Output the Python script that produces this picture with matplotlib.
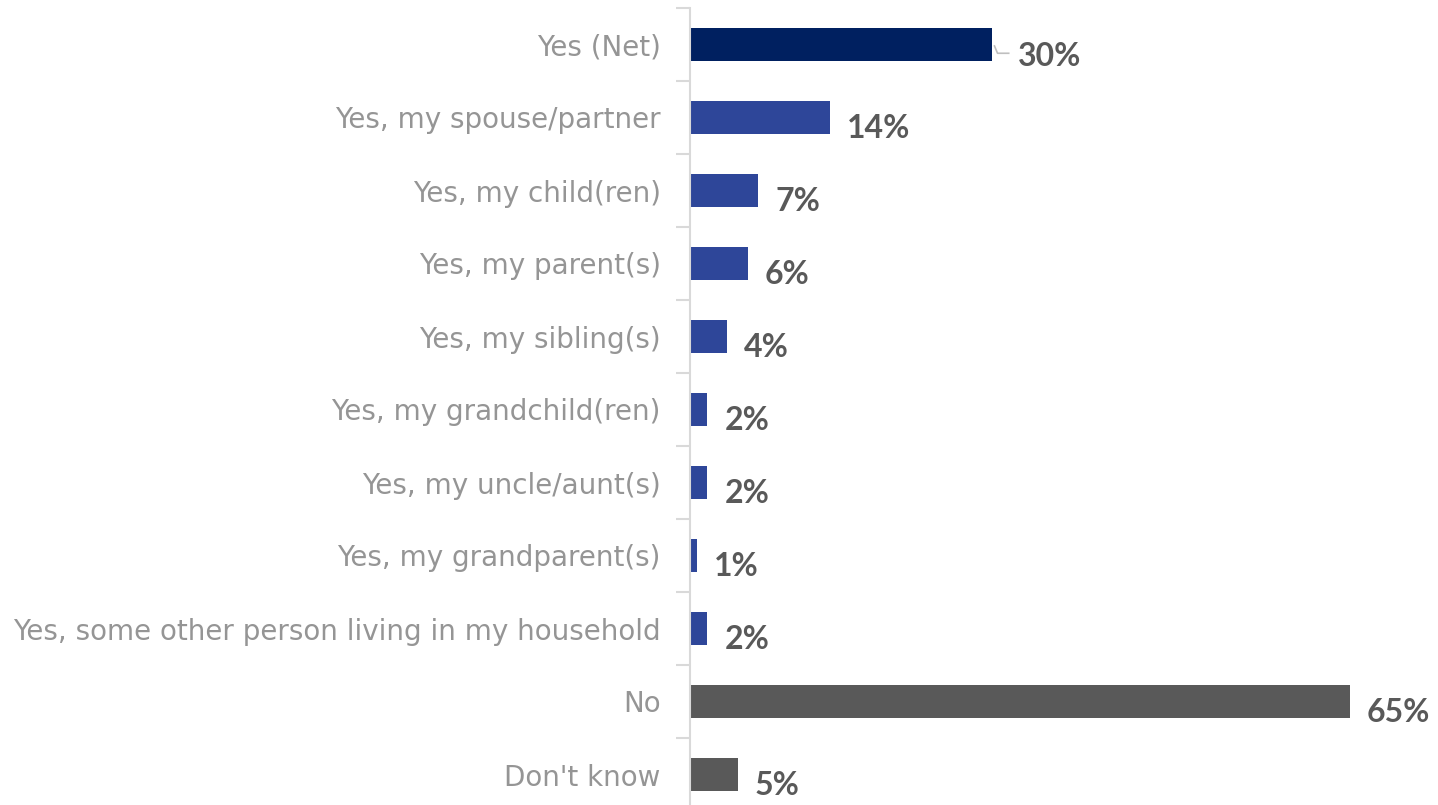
import matplotlib
matplotlib.use("Agg")
import matplotlib.pyplot as plt
import numpy as np

categories = ["Yes (Net)", "Yes, my spouse/partner", "Yes, my child(ren)", "Yes, my parent(s)",
              "Yes, my sibling(s)", "Yes, my grandchild(ren)", "Yes, my uncle/aunt(s)",
              "Yes, my grandparent(s)", "Yes, some other person living in my household",
              "No", "Don't know"]
values = [29.8, 13.8, 6.7, 5.7, 3.6, 1.7, 1.7, 0.7, 1.7, 65.0, 4.7]
labels = ["30%", "14%", "7%", "6%", "4%", "2%", "2%", "1%", "2%", "65%", "5%"]
colors = ["#002060"] + ["#2E4699"] * 8 + ["#595959"] * 2

W, H = 1438, 805
fig = plt.figure(figsize=(W / 100, H / 100), dpi=100)
ax_left = 690 / W
ax_top = 1 - 8 / H
ax_h = 11 * 73 / H
ax = fig.add_axes([ax_left, ax_top - ax_h, 1 - ax_left, ax_h])

y = np.arange(len(categories))
ax.barh(y, values, height=0.44, color=colors, zorder=2)
ax.set_ylim(10.5, -0.5)
ax.set_xlim(0, 73.7)

for s in ["top", "right", "bottom"]:
    ax.spines[s].set_visible(False)
ax.spines["left"].set_color("#D9D9D9")
ax.spines["left"].set_linewidth(1.5)
ax.set_xticks([])
ax.set_yticks(y)
ax.set_yticklabels(categories, fontsize=20, color="#959595", family="DejaVu Sans")
ax.tick_params(axis="y", which="major", length=0, pad=21)
ax.set_yticks(np.arange(-0.5, 11, 1), minor=True)
ax.tick_params(axis="y", which="minor", length=10, color="#D9D9D9", width=1.5)

for i, (v, lab) in enumerate(zip(values, labels)):
    if i == 0:
        x0 = v + 2.5
        ax.plot([v + 0.2, v + 0.5, v + 1.6], [i + 0.02, i + 0.12, i + 0.12],
                color="#BFBFBF", lw=1.2, zorder=3)
        ax.text(x0, i + 0.16, lab, va="center", ha="left", fontsize=23,
                fontweight="bold", color="#595959", family="Lato")
    else:
        ax.text(v + 1.7, i + 0.15, lab, va="center", ha="left", fontsize=23,
                fontweight="bold", color="#595959", family="Lato")

fig.savefig("out.png", dpi=100)
